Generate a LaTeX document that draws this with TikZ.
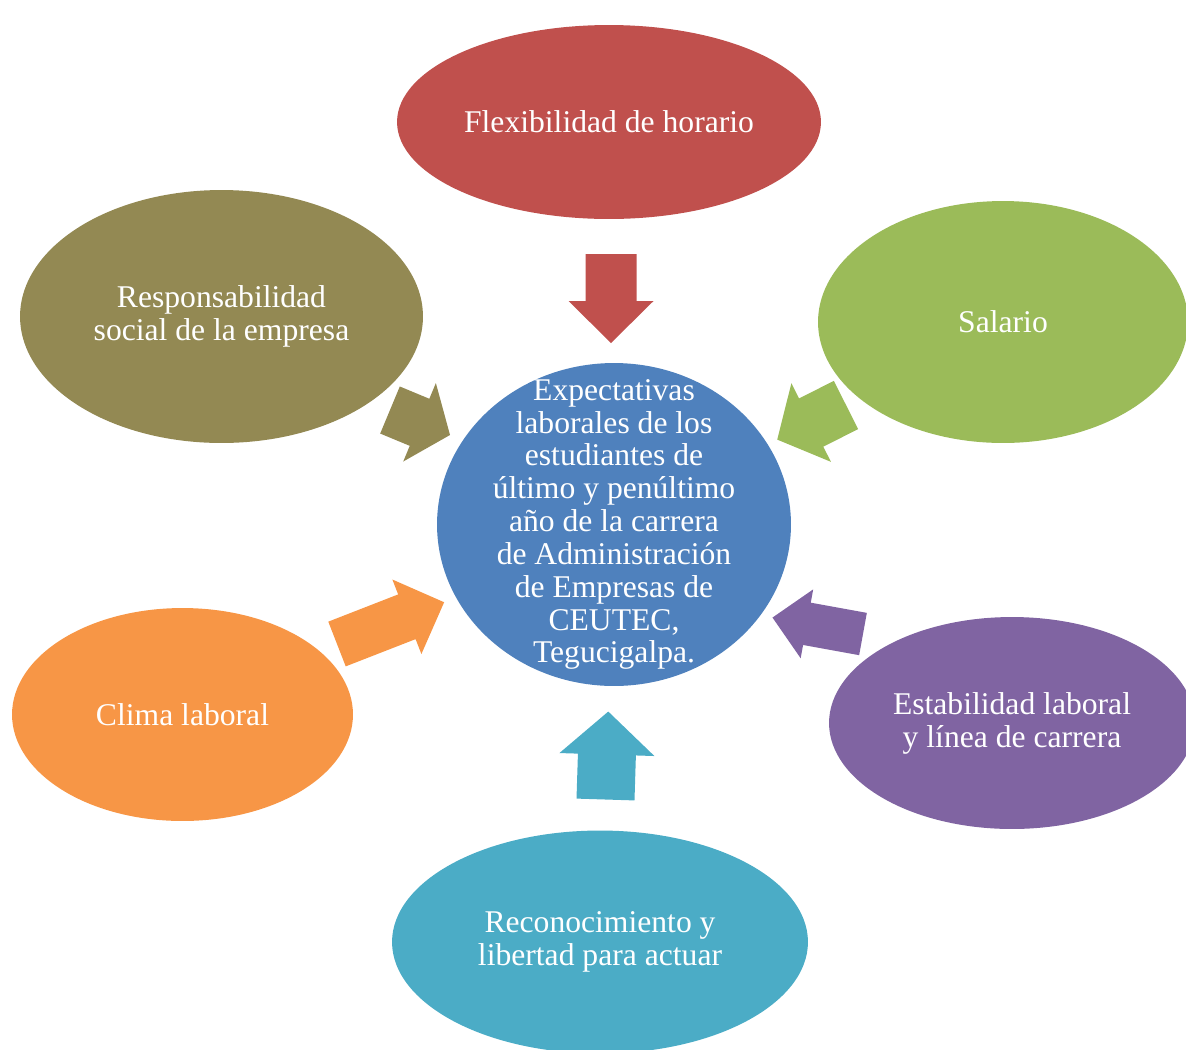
\documentclass[tikz,border=0pt]{standalone}
\usepackage{fontspec}
\setmainfont{Liberation Serif}
\usetikzlibrary{shapes.geometric}
\definecolor{cAzul}{HTML}{4F81BD}
\definecolor{cRojo}{HTML}{C0504D}
\definecolor{cVerde}{HTML}{9BBB59}
\definecolor{cOliva}{HTML}{938953}
\definecolor{cNaranja}{HTML}{F79646}
\definecolor{cMorado}{HTML}{8064A2}
\definecolor{cTurquesa}{HTML}{4BACC6}
\begin{document}
\begin{tikzpicture}[x=.02cm, y=-.02cm, font=\fontsize{18}{18.7}\selectfont, line join=round,
		burbuja/.style={ellipse, fill=#1, text=white, inner sep=0pt, align=center}]
			\useasboundingbox (0,0) rectangle (1186,1049);
			\node[burbuja=cAzul, minimum width=7.08cm, minimum height=6.46cm,
				label={[text=white, align=center, inner sep=0pt]center:{Expectativas\\laborales de los\\estudiantes de\\último y penúltimo\\año de la carrera\\de Administración\\de Empresas de\\CEUTEC,\\Tegucigalpa.}}] (centro) at (614,524.5) {};
			\node[burbuja=cRojo, minimum width=8.48cm, minimum height=3.88cm] (flexibilidad) at (609,122) {Flexibilidad de horario};
			\node[burbuja=cVerde, minimum width=7.4cm, minimum height=4.84cm] (salario) at (1003,322) {Salario};
			\node[burbuja=cOliva, minimum width=8.06cm, minimum height=5.06cm] (responsabilidad) at (221.5,316.5) {Responsabilidad\\social de la empresa};
			\node[burbuja=cNaranja, minimum width=6.82cm, minimum height=4.26cm] (clima) at (182.5,714.5) {Clima laboral};
			\node[burbuja=cMorado, minimum width=7.32cm, minimum height=4.24cm] (estabilidad) at (1012,723) {Estabilidad laboral\\y línea de carrera};
			\node[burbuja=cTurquesa, minimum width=8.32cm, minimum height=4.46cm] (reconocimiento) at (600,942) {Reconocimiento y\\libertad para actuar};
			% flechas hacia el centro: cola x/y, angulo, largo, cuerpo, punta, largo punta, color
			\foreach \x/\y/\a/\l/\s/\h/\k/\c in {611/254/-90/89/51/85/42/cRojo, 846/405/206.7/77/54/88/38/cVerde,
				390/410/-22.6/65/51/85/33/cOliva, 337/644/21.3/115/48/80/40/cNaranja,
				863/634/169.7/92/43/70/35/cMorado, 605.5/799.5/88.2/88/58/95/43/cTurquesa}
			\fill[\c, shift={(\x,\y)}, rotate=\a] (0,-\s/2) -- (\l-\k,-\s/2) -- (\l-\k,-\h/2) -- (\l,0)
				-- (\l-\k,\h/2) -- (\l-\k,\s/2) -- (0,\s/2) -- cycle;
		\end{tikzpicture}
\end{document}
